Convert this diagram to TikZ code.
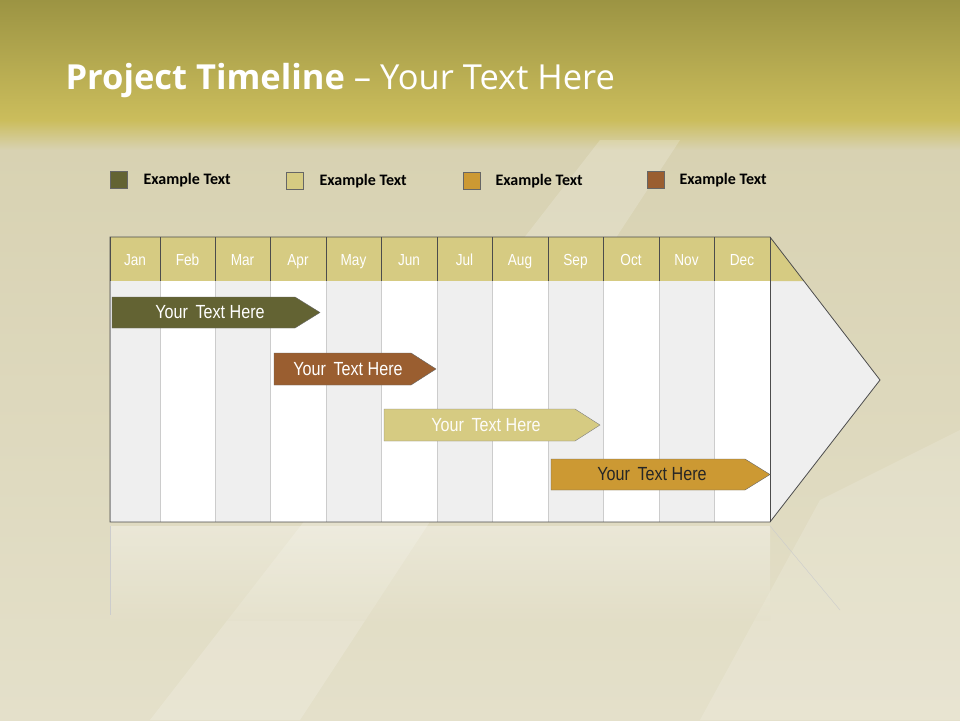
\documentclass[tikz,border=0pt]{standalone}
\usepackage{fontspec}
\setmainfont{Carlito}
\newfontfamily\titlefont{Open Sans}
\newfontfamily\narrowfont[FakeStretch=0.85]{Liberation Sans}
\begin{document}
\begin{tikzpicture}[x=1pt,y=-1pt,
  month/.style={font=\narrowfont\fontsize{16}{16}\selectfont,text=white,anchor=base},
  legtext/.style={font=\bfseries\fontsize{16}{16}\selectfont,anchor=west},
  bartext/.style={font=\narrowfont\fontsize{19}{19}\selectfont,text=white},
  legbox/.style={draw=black!60,line width=0.8pt,minimum size=17pt,inner sep=0pt}]
\definecolor{olive}{HTML}{636333}
\definecolor{tan}{HTML}{D6CB82}
\definecolor{gold}{HTML}{CC9933}
\definecolor{brown}{HTML}{9A5E30}
\definecolor{cellg}{HTML}{EFEFEF}
\useasboundingbox (0,0) rectangle (960,720);
\definecolor{bgA}{HTML}{9C9443}
\definecolor{bgB}{HTML}{CBBD5C}
\definecolor{bgC}{HTML}{D8D2B2}
\definecolor{bgD}{HTML}{E4E0CA}
\shade[top color=bgA,bottom color=bgB] (0,0) rectangle (960,120);
\shade[top color=bgB,bottom color=bgC] (0,120) rectangle (960,150);
\shade[top color=bgC,bottom color=bgD] (0,150) rectangle (960,720);
\fill[white,opacity=0.18] (150,720) -- (600,140) -- (680,140) -- (300,720) -- cycle;
\fill[white,opacity=0.15] (700,720) -- (820,500) -- (960,430) -- (960,720) -- cycle;
\node[anchor=west,text=white,font=\titlefont\fontsize{34.5}{34.5}\selectfont] (title) at (62,81) {\textbf{Project Timeline} – Your Text Here};
% legend
\node[legbox,fill=olive] (l1) at (119,180) {};
\node[legtext] (t1) at (140,180) {Example Text};
\node[legbox,fill=tan] (l2) at (295,181) {};
\node[legtext] (t2) at (316,181) {Example Text};
\node[legbox,fill=gold] (l3) at (472,181) {};
\node[legtext] (t3) at (492,181) {Example Text};
\node[legbox,fill=brown] (l4) at (656,180) {};
\node[legtext] (t4) at (676,180) {Example Text};
% arrow body
\fill[cellg] (770,237) -- (880,380) -- (770,522) -- cycle;
\fill[tan] (770,237) -- (804,281) -- (770,281) -- cycle;
\def\xs{{110,160,215,270,326,381,437,492,548,603,659,714,770}}
\foreach \i/\m in {0/Jan,1/Feb,2/Mar,3/Apr,4/May,5/Jun,6/Jul,7/Aug,8/Sep,9/Oct,10/Nov,11/Dec}{
  \pgfmathsetmacro\xa{\xs[\i]}
  \pgfmathsetmacro\xb{\xs[\i+1]}
  \pgfmathsetmacro\c{mod(\i,2)}
  \ifdim\c pt=0pt \fill[cellg] (\xa,281) rectangle (\xb,522); \else \fill[white] (\xa,281) rectangle (\xb,522); \fi
  \fill[tan] (\xa,237) rectangle (\xb,281);
  \draw[black!70,line width=0.6pt] (\xa,237) -- (\xa,281);
  \draw[black!20,line width=0.6pt] (\xa,281) -- (\xa,522);
  \node[month] (m\i) at ({(\xa+\xb)/2},265) {\m};
}
\draw[black!70,line width=0.8pt] (110,237) -- (770,237) -- (880,380) -- (770,522) -- (110,522) -- cycle;
\draw[black!70,line width=0.6pt] (770,237) -- (770,522);
% reflection
\shade[top color=white,bottom color=bgD,opacity=0.35] (110,526) rectangle (770,620);
\draw[black!20] (110,526) -- (110,615);
\draw[black!20] (770,526) -- (840,610);
% bars
\draw[black!60,fill=olive] (112,297) -- (295,297) -- (320,312.5) -- (295,328) -- (112,328) -- cycle;
\node[bartext] (b1) at (210,312.5) {Your\, Text Here};
\draw[black!60,fill=brown] (274,353) -- (411,353) -- (436,369) -- (411,385) -- (274,385) -- cycle;
\node[bartext] (b2) at (348,369) {Your\, Text Here};
\draw[black!50,fill=tan] (384,409) -- (575,409) -- (600,425) -- (575,441) -- (384,441) -- cycle;
\node[bartext,text=white!95!tan] (b3) at (486,425) {Your\, Text Here};
\draw[black!60,fill=gold] (551,459) -- (745,459) -- (770,474.5) -- (745,490) -- (551,490) -- cycle;
\node[bartext,text=black!85] (b4) at (652,474.5) {Your\, Text Here};
\end{tikzpicture}
\end{document}
